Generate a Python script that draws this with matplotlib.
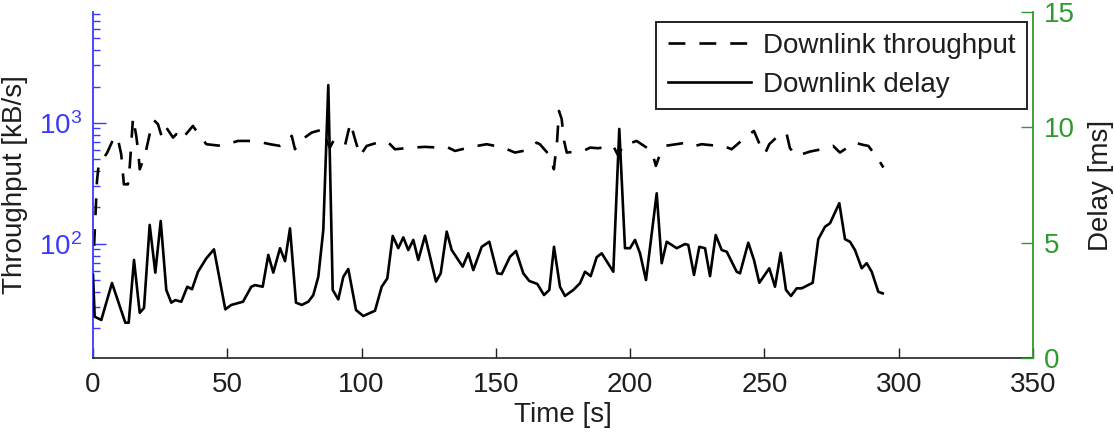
import matplotlib
matplotlib.use("Agg")
import matplotlib.pyplot as plt
from matplotlib.ticker import LogLocator, FixedLocator, NullFormatter

# ---- data ----
thr_time = [0.4, 0.9, 1.5, 2.2, 3.7, 5.3, 8.1, 9.3, 10.5, 11.5, 13.0, 13.7, 14.9, 16.1,
            16.8, 17.4, 19.3, 21.1, 22.7, 24.2, 25.7, 27.3, 29.8, 31.0, 32.7, 37.2, 38.5,
            42.2, 47.8, 54.0, 60.2, 65.9, 69.6, 72.1, 74.0, 75.2, 77.1, 81.4, 85.8, 87.0,
            88.2, 89.5, 93.8, 95.1, 95.9, 97.2, 99.4, 101.9, 108.1, 110.6, 112.4, 118.7,
            123.6, 129.2, 131.7, 134.8, 141.0, 146.6, 152.8, 157.1, 161.5, 165.2, 166.4,
            170.2, 171.6, 172.8, 173.5, 174.5, 175.4, 176.4, 182.6, 185.1, 188.1, 193.7,
            195.6, 197.5, 200.6, 202.4, 208.0, 209.6, 211.1, 212.9, 214.8, 221.1, 224.2,
            226.6, 232.8, 234.7, 237.8, 242.8, 246.1, 249.0, 250.2, 251.8, 256.4, 258.3,
            259.5, 262.0, 267.0, 273.2, 275.6, 278.1, 283.7, 286.8, 288.7, 292.4, 294.3]
thr_value = [96, 170, 335, 470, 501, 569, 782, 733, 551, 311, 311, 442, 1106, 782,
             587, 414, 534, 807, 1052, 975, 757, 915, 757, 807, 719, 944, 859,
             667, 646, 710, 710, 667, 646, 687, 782, 606, 710, 832, 887, 710,
             625, 710, 646, 859, 1005, 782, 534, 646, 710, 667, 606, 625,
             634, 625, 634, 587, 634, 667, 625, 569, 595, 687, 667,
             534, 414, 710, 1256, 1080, 710, 569, 587, 625, 618, 646,
             534, 667, 687, 710, 587, 442, 551, 646, 655, 687, 646,
             667, 646, 646, 606, 757, 859, 606, 557, 667, 832, 807,
             618, 534, 580, 618, 646, 569, 687, 658, 646, 501, 428]

delay_time = [0.0, 0.63, 3.09, 7.07, 12.03, 13.29, 15.27, 17.39, 18.99, 21.11, 23.20, 25.21,
              27.29, 29.15, 30.64, 32.88, 35.11, 36.86, 39.10, 42.19, 45.05, 49.26, 51.49,
              55.85, 58.94, 60.32, 63.19, 65.27, 67.13, 69.63, 71.49, 73.35, 75.58, 77.71,
              80.16, 82.03, 83.89, 85.75, 87.61, 89.25, 91.33, 93.20, 95.06, 97.93, 100.64,
              105.0, 107.49, 109.58, 111.59, 113.67, 115.54, 117.40, 119.26, 121.12, 123.62,
              127.71, 129.46, 131.70, 133.56, 137.66, 139.74, 141.60, 144.73, 147.56, 150.54,
              152.18, 155.27, 157.50, 160.22, 162.45, 165.43, 167.93, 169.90, 171.65, 173.88,
              175.74, 178.84, 181.33, 183.19, 185.31, 187.55, 189.41, 193.73, 195.96, 198.08,
              199.95, 201.81, 203.67, 205.90, 209.89, 211.75, 213.62, 217.34, 220.43, 221.66,
              223.78, 225.75, 227.88, 229.74, 231.86, 234.09, 235.95, 239.67, 240.90, 243.99,
              246.11, 248.09, 251.81, 253.93, 256.06, 258.03, 259.89, 262.01, 263.87, 267.97,
              270.06, 272.55, 274.41, 277.88, 280.0, 281.86, 283.72, 286.22, 288.08, 289.94,
              292.40, 294.04]
delay_value = [3.60, 1.79, 1.65, 3.25, 1.53, 1.53, 4.25, 1.96, 2.17, 5.77, 3.70, 5.94,
               2.95, 2.40, 2.51, 2.44, 3.09, 2.98, 3.74, 4.32, 4.71, 2.11, 2.30,
               2.44, 3.09, 3.16, 3.09, 4.47, 3.70, 4.76, 4.20, 5.62, 2.40, 2.30,
               2.44, 2.73, 3.52, 5.55, 11.83, 2.95, 2.54, 3.52, 3.86, 2.08, 1.82,
               2.05, 3.09, 3.45, 5.29, 4.76, 5.23, 4.68, 5.12, 4.25, 5.30,
               3.31, 3.67, 5.48, 4.68, 3.96, 4.54, 3.81, 4.82, 5.04, 3.67,
               3.64, 4.39, 4.64, 3.67, 3.34, 3.21, 2.73, 2.95, 4.82, 3.09,
               2.69, 2.95, 3.24, 3.74, 3.55, 4.37, 4.54, 3.74, 9.93, 4.76,
               4.76, 5.12, 4.54, 3.38, 7.14, 4.11, 5.04, 4.76, 4.94, 4.90,
               3.60, 4.82, 4.76, 3.55, 5.33, 4.68, 4.61, 3.74, 3.67, 5.00,
               4.25, 3.26, 3.89, 3.09, 4.56, 2.95, 2.69, 3.02, 3.02, 3.26,
               5.15, 5.69, 5.84, 6.71, 5.15, 5.04, 4.68, 3.89, 4.11, 3.74,
               2.87, 2.80]

x_ticks = [0, 50, 100, 150, 200, 250, 300, 350]
delay_ticks = [0, 5, 10, 15]
labels = ["Downlink throughput", "Downlink delay"]

# ---- styling ----
BLUE = "#3a3aff"
GREEN = "#2f9a2f"
TXT = "#1e1e1e"
plt.rcParams["font.family"] = ["Liberation Sans", "DejaVu Sans"]
plt.rcParams["mathtext.fontset"] = "custom"
plt.rcParams["mathtext.rm"] = "Liberation Sans"
FS = 20
LW = 1.9

fig = plt.figure(figsize=(11.14, 4.40), dpi=100)
ax = fig.add_axes([93 / 1114, 1 - 358 / 440, 940 / 1114, 346 / 440])
ax2 = ax.twinx()

l1, = ax.plot(thr_time, thr_value, color="black", lw=LW,
              linestyle=(0, (6.4, 5.3)), label=labels[0])
l2, = ax2.plot(delay_time, delay_value, color="black", lw=LW, label=labels[1])

ax.set_yscale("log")
ax.set_ylim(11.4, 8260)
ax.set_xlim(0, 350)
ax2.set_ylim(0, 15)

ax.xaxis.set_major_locator(FixedLocator(x_ticks))
ax2.yaxis.set_major_locator(FixedLocator(delay_ticks))
ax.yaxis.set_major_locator(LogLocator(base=10, numticks=10))
ax.yaxis.set_minor_locator(LogLocator(base=10, subs=range(2, 10), numticks=20))
ax.yaxis.set_minor_formatter(NullFormatter())

for a in (ax, ax2):
    a.spines["top"].set_visible(False)
ax.spines["right"].set_visible(False)
ax2.spines["left"].set_visible(False)
ax2.spines["bottom"].set_visible(False)
ax.spines["left"].set_color(BLUE)
ax2.spines["right"].set_color(GREEN)
ax.spines["bottom"].set_color("#333333")
for s in (ax.spines["left"], ax2.spines["right"], ax.spines["bottom"]):
    s.set_linewidth(1.3)

ax.tick_params(axis="x", direction="in", length=7, width=1, colors=TXT,
               labelsize=FS, pad=10)
ax.tick_params(axis="y", which="major", direction="in", length=9, width=1,
               colors=BLUE, labelsize=FS, pad=8)
ax.tick_params(axis="y", which="minor", direction="in", length=5, width=1,
               colors=BLUE)
ax2.tick_params(axis="y", direction="in", length=9, width=1, colors=GREEN,
                labelsize=FS, pad=8)

ax.set_xlabel("Time [s]", fontsize=FS, color=TXT, labelpad=3)
ax.set_ylabel("Throughput [kB/s]", fontsize=FS, color=TXT, labelpad=8)
ax2.set_ylabel("Delay [ms]", fontsize=FS, color=TXT, labelpad=9)

leg = ax2.legend([l1, l2], labels, loc="upper right",
                 bbox_to_anchor=(0.9936, 0.971), borderaxespad=0,
                 fancybox=False, framealpha=1, edgecolor="#222222",
                 fontsize=FS, handlelength=3.0, handletextpad=0.45,
                 labelspacing=0.45, borderpad=0.4)
leg.get_frame().set_linewidth(1.4)
for t in leg.get_texts():
    t.set_color(TXT)

fig.savefig("out.png", dpi=100)
